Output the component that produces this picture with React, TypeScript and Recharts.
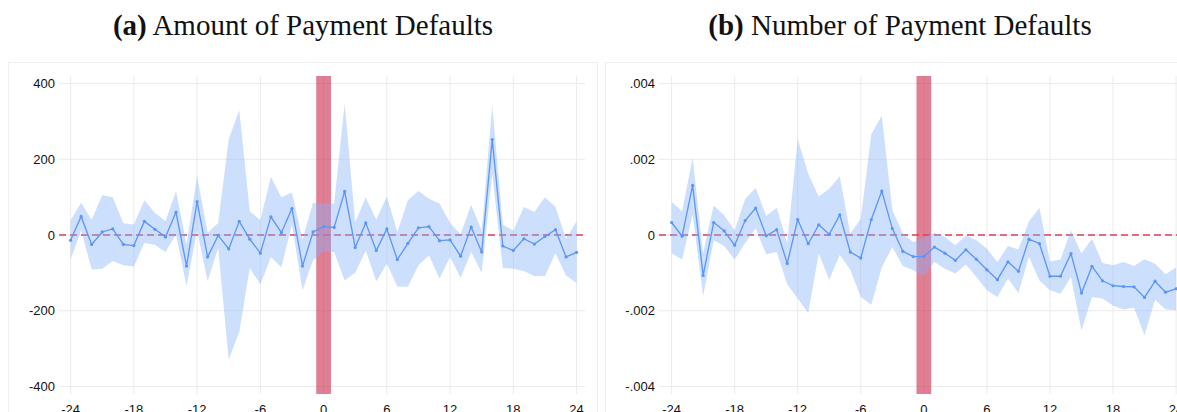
import React from 'react';
import { ComposedChart, Line, Area, XAxis, YAxis, CartesianGrid, ReferenceArea, ReferenceLine } from 'recharts';

const months = [-24, -23, -22, -21, -20, -19, -18, -17, -16, -15, -14, -13, -12, -11, -10, -9, -8, -7, -6, -5, -4, -3, -2, -1, 0, 1, 2, 3, 4, 5, 6, 7, 8, 9, 10, 11, 12, 13, 14, 15, 16, 17, 18, 19, 20, 21, 22, 23, 24];

const amountEst = [-14, 49, -25, 8, 16, -25, -28, 36, 15, -5, 60, -82, 88, -58, -1, -37, 36, -11, -48, 48, 6, 70, -82, 8, 22, 20, 115, -33, 32, -41, 16, -65, -22, 19, 22, -15, -13, -56, 21, -45, 252, -29, -41, -10, -24, -4, 14, -58, -46];
const amountHi = [39, 85, 40, 105, 100, 31, 28, 92, 59, 36, 116, -25, 156, 6, 32, 253, 330, 63, 39, 153, 100, 112, -12, 85, 83, 83, 347, 34, 99, 41, 102, 8, 92, 116, 96, 83, 32, 2, 80, 12, 343, 28, 11, 74, 61, 100, 74, -10, 36];
const amountLo = [-65, 12, -91, -89, -69, -80, -83, -21, -26, -45, 2, -135, 12, -122, -34, -329, -256, -87, -131, -58, -85, 28, -146, -67, -43, -45, -120, -100, -41, -122, -76, -136, -137, -80, -54, -115, -58, -113, -45, -100, 162, -87, -89, -95, -108, -108, -48, -107, -127];

const countEst = [0.00033, -0.00003, 0.00131, -0.00107, 0.00033, 0.00011, -0.00027, 0.00038, 0.00071, -0.00002, 0.00014, -0.00075, 0.00041, -0.00023, 0.00027, 0.00002, 0.00053, -0.00045, -0.00061, 0.00041, 0.00116, 0.00017, -0.00043, -0.00057, -0.00057, -0.00032, -0.00048, -0.00067, -0.00039, -0.00064, -0.00092, -0.00118, -0.00071, -0.00096, -0.00011, -0.00023, -0.00109, -0.00109, -0.00049, -0.00153, -0.00083, -0.00121, -0.00134, -0.00136, -0.00137, -0.00165, -0.00122, -0.00151, -0.00142];
const countHi = [0.00087, 0.00063, 0.00204, -0.00048, 0.00078, 0.00052, 0.00012, 0.00096, 0.00124, 0.0005, 0.00072, -0.00021, 0.00253, 0.00162, 0.00102, 0.00122, 0.00155, 0.00004, 0.00043, 0.00266, 0.00315, 0.00067, 0.00004, -0.00019, -0.00005, 0.00006, -0.00005, -0.00027, -0.00001, -0.00014, -0.00036, -0.00071, -0.00029, -0.00038, 0.00036, 0.00071, -0.0007, -0.00065, 0.00012, -0.00049, -0.0001, -0.00074, -0.0008, -0.00071, -0.00082, -0.00064, -0.00076, -0.00104, -0.00086];
const countLo = [-0.00048, -0.00065, 0.00054, -0.00162, -0.00014, -0.00029, -0.00065, -0.00021, 0.00017, -0.00051, -0.00045, -0.0013, -0.00168, -0.00206, -0.00049, -0.00118, -0.00052, -0.00092, -0.00164, -0.00184, -0.00085, -0.00032, -0.00082, -0.00093, -0.00108, -0.00071, -0.00089, -0.00102, -0.00078, -0.00111, -0.00146, -0.00164, -0.00115, -0.00153, -0.00058, -0.0012, -0.00146, -0.00155, -0.00111, -0.00252, -0.00164, -0.00168, -0.00186, -0.00197, -0.00192, -0.00265, -0.00171, -0.00197, -0.00199];

const xTicks = [-24, -18, -12, -6, 0, 6, 12, 18, 24];
const amountTicks = [-400, -200, 0, 200, 400];
const amountTickLabels = ['-400', '-200', '0', '200', '400'];
const countTicks = [-0.004, -0.002, 0, 0.002, 0.004];
const countTickLabels = ['-.004', '-.002', '0', '.002', '.004'];

const titleA = 'Amount of Payment Defaults';
const titleB = 'Number of Payment Defaults';

const LINE = '#5b95f7';
const BAND = '#86b3fa';
const BAR = '#cb2a4d';
const DASH = '#d8405c';

function build(est: number[], lo: number[], hi: number[]) {
  return months.map((m, i) => ({ m, est: est[i], band: [lo[i], hi[i]] }));
}

const amountData = build(amountEst, amountLo, amountHi);
const countData = build(countEst, countLo, countHi);

type PanelProps = {
  data: any[];
  left: number;
  xDomain: [number, number];
  yDomain: [number, number];
  yTicks: number[];
  yLabels: string[];
};

function Panel({ data, left, xDomain, yDomain, yTicks, yLabels }: PanelProps) {
  const tickStyle = { fill: '#111', fontSize: 13, fontFamily: '"Liberation Sans", Arial, sans-serif' };
  return (
    <div style={{ position: 'absolute', left, top: 0 }}>
      <ComposedChart width={590} height={424} data={data} margin={{ top: 76, right: 5, bottom: 0, left: 0 }}>
        <CartesianGrid stroke="#ebebeb" strokeWidth={1} horizontalValues={yTicks} verticalValues={xTicks} />
        <XAxis
          dataKey="m"
          type="number"
          domain={xDomain}
          ticks={xTicks}
          allowDataOverflow
          axisLine={false}
          tickLine={false}
          tickSize={5}
          tickMargin={6}
          height={30}
          tick={tickStyle}
          interval={0}
        />
        <YAxis
          type="number"
          domain={yDomain}
          ticks={yTicks}
          allowDataOverflow
          axisLine={false}
          tickLine={false}
          tickSize={2}
          tickMargin={2}
          width={59}
          tick={tickStyle}
          interval={0}
          tickFormatter={(v: number) => yLabels[yTicks.indexOf(v)] ?? String(v)}
        />
        <ReferenceArea x1={-0.7} x2={0.7} fill={BAR} fillOpacity={0.6} stroke="none" zIndex={50} />
        <ReferenceLine y={0} stroke={DASH} strokeWidth={1.4} strokeDasharray="7 4" zIndex={60} />
        <Area
          dataKey="band"
          type="linear"
          stroke="none"
          fill={BAND}
          fillOpacity={0.42}
          isAnimationActive={false}
          dot={false}
          activeDot={false}
          zIndex={100}
        />
        <Line
          dataKey="est"
          type="linear"
          stroke={LINE}
          strokeWidth={1.3}
          dot={{ r: 1.6, fill: LINE, stroke: 'none' }}
          activeDot={false}
          isAnimationActive={false}
          zIndex={400}
        />
      </ComposedChart>
    </div>
  );
}

export default function App() {
  const titleStyle: React.CSSProperties = {
    position: 'absolute',
    top: 11,
    width: 590,
    textAlign: 'center',
    fontFamily: '"Liberation Serif", "Times New Roman", serif',
    fontSize: 29,
    lineHeight: 1,
    color: '#111',
    whiteSpace: 'nowrap',
  };
  const frame: React.CSSProperties = {
    position: 'absolute',
    top: 62,
    width: 590,
    height: 400,
    border: '1px solid #efefef',
    boxSizing: 'border-box',
  };
  return (
    <div style={{ position: 'absolute', left: 0, top: 0, width: 1177, height: 412, overflow: 'hidden', background: '#fff' }}>
      <div style={{ ...titleStyle, left: 8 }}>
        <b>(a)</b> {titleA}
      </div>
      <div style={{ ...titleStyle, left: 605 }}>
        <b>(b)</b> {titleB}
      </div>
      <div style={{ ...frame, left: 8 }} />
      <div style={{ ...frame, left: 605 }} />
      <Panel data={amountData} left={0} xDomain={[-25.1, 24.8]} yDomain={[-420, 420]} yTicks={amountTicks} yLabels={amountTickLabels} />
      <Panel data={countData} left={600} xDomain={[-25.2, 24.85]} yDomain={[-0.0042, 0.0042]} yTicks={countTicks} yLabels={countTickLabels} />
    </div>
  );
}
